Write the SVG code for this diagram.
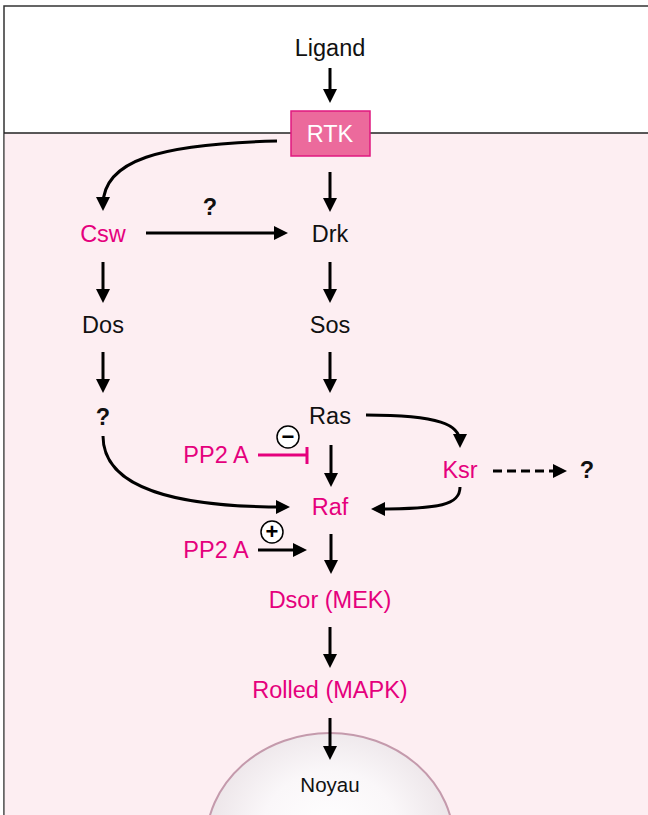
<svg xmlns="http://www.w3.org/2000/svg" width="648" height="815" viewBox="0 0 648 815">
<defs>
<style>
.t{font-family:"Liberation Sans",Arial,sans-serif;font-size:23.5px;text-anchor:middle;fill:#111}
.m{fill:#e5007d}
.b{font-weight:bold}
.c{fill:none;stroke:#000;stroke-width:3}
.sym{font-family:"Liberation Sans",Arial,sans-serif;font-size:22px;font-weight:bold;text-anchor:middle;fill:#000}
</style>
<marker id="ah" markerUnits="userSpaceOnUse" markerWidth="16" markerHeight="16" refX="8" refY="7" orient="auto">
<path d="M0,0 L14,7 L0,14 z" fill="#000"/>
</marker>
<radialGradient id="ng" cx="0.5" cy="0.45" r="0.55">
<stop offset="0" stop-color="#ffffff"/>
<stop offset="0.5" stop-color="#faf7f9"/>
<stop offset="1" stop-color="#e9e1e5"/>
</radialGradient>
</defs>

<g id="background">
<rect x="4" y="6" width="700" height="900" fill="#ffffff" stroke="#333" stroke-width="1.5"/>
<rect x="4.75" y="133" width="700" height="700" fill="#fdeef2"/>
<line x1="4" y1="133" x2="648" y2="133" stroke="#222" stroke-width="1.5"/>
</g>

<g id="noyau">
<ellipse cx="330" cy="843" rx="124" ry="110" fill="url(#ng)" stroke="#c49aac" stroke-width="2"/>
<text class="t" x="330" y="792" style="font-size:20.5px">Noyau</text>
</g>

<g id="ligand"><text class="t" x="330" y="56">Ligand</text></g>
<g id="rtk">
<rect x="291" y="111" width="79" height="45" fill="#ec6a9c" stroke="#e0197f" stroke-width="1.5"/>
<text class="t" x="330" y="142" style="fill:#fff">RTK</text>
</g>
<g id="csw"><text class="t m" x="103" y="242">Csw</text></g>
<g id="drk"><text class="t" x="330" y="242">Drk</text></g>
<g id="dos"><text class="t" x="103" y="333">Dos</text></g>
<g id="sos"><text class="t" x="330" y="333">Sos</text></g>
<g id="q1"><text class="t b" x="103" y="425">?</text></g>
<g id="ras"><text class="t" x="330" y="424">Ras</text></g>
<g id="ksr"><text class="t m" x="460" y="478">Ksr</text></g>
<g id="q2"><text class="t b" x="587" y="478">?</text></g>
<g id="raf"><text class="t m" x="330" y="515">Raf</text></g>
<g id="pp2a1"><text class="t m" x="216" y="463">PP2 A</text></g>
<g id="pp2a2"><text class="t m" x="216" y="558">PP2 A</text></g>
<g id="dsor"><text class="t m" x="330" y="608">Dsor (MEK)</text></g>
<g id="rolled"><text class="t m" x="330" y="698">Rolled (MAPK)</text></g>

<g id="connectors">
<line class="c" x1="330" y1="68" x2="330" y2="97" marker-end="url(#ah)"/>
<path class="c" d="M277,141 C160,144 103,160 103,205" marker-end="url(#ah)"/>
<line class="c" x1="330" y1="172" x2="330" y2="206" marker-end="url(#ah)"/>
<line class="c" x1="146" y1="233" x2="282" y2="233" marker-end="url(#ah)"/>
<text class="t b" x="210" y="215">?</text>
<line class="c" x1="103" y1="262" x2="103" y2="297" marker-end="url(#ah)"/>
<line class="c" x1="330" y1="262" x2="330" y2="297" marker-end="url(#ah)"/>
<line class="c" x1="103" y1="352" x2="103" y2="387" marker-end="url(#ah)"/>
<line class="c" x1="330" y1="352" x2="330" y2="387" marker-end="url(#ah)"/>
<path class="c" d="M103,436 C103,490 180,507 284,507" marker-end="url(#ah)"/>
<line class="c" x1="331" y1="445" x2="331" y2="481" marker-end="url(#ah)"/>
<path class="c" d="M366,415 C440,415 460,425 460,442" marker-end="url(#ah)"/>
<line class="c" x1="493" y1="471" x2="561" y2="471" stroke-dasharray="9,5" marker-end="url(#ah)"/>
<path class="c" d="M460,487 C460,505 440,509 377,509" marker-end="url(#ah)"/>
<line x1="258" y1="455" x2="307" y2="455" stroke="#e5007d" stroke-width="3"/>
<line x1="307" y1="447" x2="307" y2="464" stroke="#e5007d" stroke-width="3"/>
<circle cx="288" cy="437" r="11" fill="#fff" stroke="#000" stroke-width="1.5"/>
<text class="sym" x="288" y="444">−</text>
<line class="c" x1="258" y1="550" x2="301" y2="550" marker-end="url(#ah)"/>
<circle cx="272" cy="532" r="11" fill="#fff" stroke="#000" stroke-width="1.5"/>
<text class="sym" x="272" y="539">+</text>
<line class="c" x1="331" y1="534" x2="331" y2="568" marker-end="url(#ah)"/>
<line class="c" x1="330" y1="627" x2="330" y2="662" marker-end="url(#ah)"/>
<line class="c" x1="330" y1="718" x2="330" y2="754" marker-end="url(#ah)"/>
</g>
</svg>
